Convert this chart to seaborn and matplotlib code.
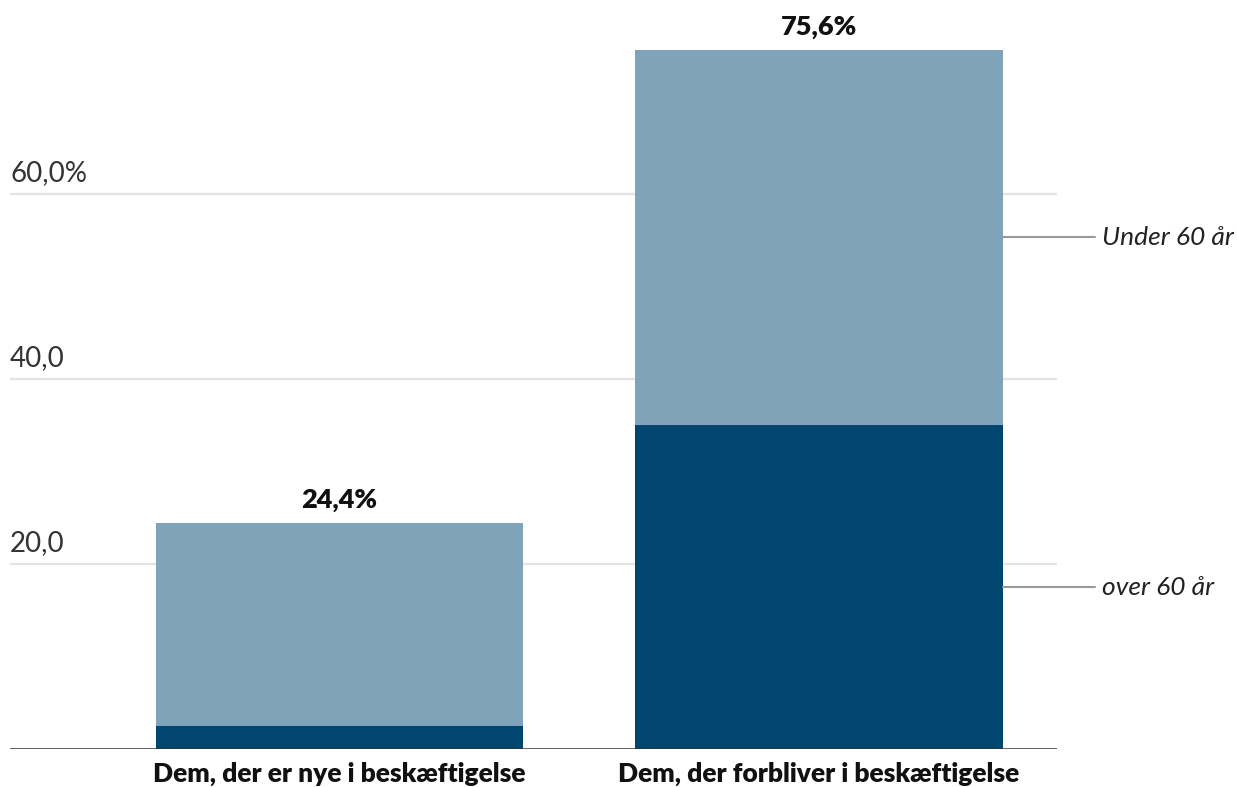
import seaborn as sns
import pandas as pd
import matplotlib.pyplot as plt

# Data
categories = ["Dem, der er nye i beskæftigelse", "Dem, der forbliver i beskæftigelse"]
over_60 = [2.5, 35.0]
under_60 = [21.9, 40.6]
total_labels = ["24,4%", "75,6%"]
y_ticks = [20, 40, 60]
y_tick_labels = ["20,0", "40,0", "60,0%"]
series_labels = ["Under 60 år", "over 60 år"]

light = "#7fa3b8"
dark = "#00466e"

sns.set_theme(style="white")
plt.rcParams["font.family"] = ["Lato", "DejaVu Sans"]

df = pd.DataFrame({"kategori": categories, "over": over_60,
                   "total": [o + u for o, u in zip(over_60, under_60)]})

fig = plt.figure(figsize=(12.37, 7.87), dpi=100)
ax = fig.add_axes([10 / 1237, 38 / 787, 1047 / 1237, 740 / 787])

# total bar (light) with the over-60 share (dark) drawn on top
sns.barplot(data=df, x="kategori", y="total", color=light, width=0.765,
            saturation=1, linewidth=0, ax=ax, zorder=2)
sns.barplot(data=df, x="kategori", y="over", color=dark, width=0.765,
            saturation=1, linewidth=0, ax=ax, zorder=3)

ax.set_xlim(-0.686, 1.496)
ax.set_ylim(0, 80)

# gridlines
for t in y_ticks:
    ax.axhline(t, color="#e3e3e3", lw=1.6, zorder=1)
ax.axhline(0, color="#333333", lw=1.8, zorder=4)

ax.set_yticks([])
for t, lab in zip(y_ticks, y_tick_labels):
    ax.annotate(lab, xy=(0, t), xycoords=("axes fraction", "data"),
                xytext=(0, 6), textcoords="offset points",
                ha="left", va="bottom", fontsize=20, fontweight="normal",
                color="#333333")

# total labels above bars
for i, lab in enumerate(total_labels):
    ax.annotate(lab, xy=(i, df["total"][i]), xytext=(0, 8),
                textcoords="offset points", ha="center", va="bottom",
                fontsize=19.5, fontweight="heavy", color="#111111")

# series labels at the right of the second bar
bar_right = 1 + 0.765 / 2
mid_under = over_60[1] + under_60[1] / 2
mid_over = over_60[1] / 2
for y, lab in zip([mid_under, mid_over], series_labels):
    ax.plot([bar_right, 1.575], [y, y], color="#999999", lw=1.5,
            clip_on=False, zorder=3)
    ax.text(1.59, y, lab, ha="left", va="center", fontsize=19,
            fontstyle="italic", fontweight="normal", color="#222222")

ax.set_xlabel("")
ax.set_ylabel("")
ax.tick_params(axis="x", length=0, pad=9)
ax.set_xticks(range(len(categories)))
ax.set_xticklabels(categories, fontsize=19, fontweight="heavy", color="#111111")
sns.despine(ax=ax, left=True, bottom=True)

fig.savefig("out.png", dpi=100)
